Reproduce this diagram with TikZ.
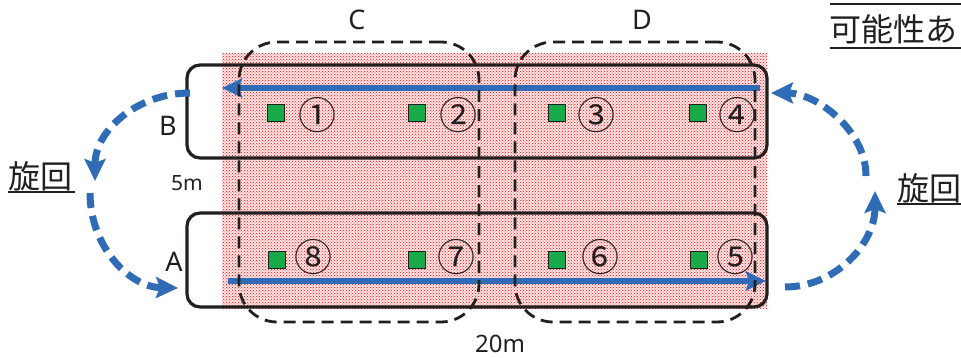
\documentclass[tikz,border=0pt]{standalone}
\usepackage{fontspec}
\setmainfont{Noto Sans}
\newfontfamily\jp{Noto Sans CJK JP}
\usetikzlibrary{patterns,arrows.meta}
\definecolor{arrowblue}{RGB}{47,108,181}
\definecolor{txt}{RGB}{35,31,32}
\definecolor{sqgreen}{RGB}{24,170,72}
\begin{document}
\begin{tikzpicture}[x=1pt,y=-1pt,
  rowbox/.style={draw=txt, line width=3.2pt, rounded corners=13pt, minimum width=580pt, inner sep=0pt},
  zonebox/.style={draw=txt, line width=2.8pt, dash pattern=on 12pt off 7pt, rounded corners=38pt, minimum width=240pt, minimum height=280pt, inner sep=0pt},
  flow/.style={arrowblue, line width=6pt, -{Stealth[length=20pt,width=19pt,inset=3pt]}},
  turn/.style={arrowblue, line width=7pt, dash pattern=on 15pt off 8pt, -{Stealth[length=22pt,width=21pt,inset=4pt]}},
  sensor/.style={fill=sqgreen, draw=txt, line width=1.2pt, minimum size=17pt, inner sep=0pt},
  num/.style={font=\jp\fontsize{38}{38}\selectfont, text=txt, inner sep=0pt},
  lbl/.style={font=\fontsize{27}{27}\selectfont, text=txt, inner sep=0pt},
  dim/.style={font=\fontsize{21}{21}\selectfont, text=txt, inner sep=0pt},
  jplbl/.style={font=\jp\fontsize{32}{32}\selectfont, text=txt, inner sep=0pt},
  uline/.style={txt, line width=1.3pt}
]
\useasboundingbox (0,0) rectangle (961,358);
% dotted area
\fill[red!10] (222,53) rectangle (767,308);
\fill[pattern=crosshatch dots, pattern color=red] (222,53) rectangle (767,308);
% rows
\node[rowbox, minimum height=93pt] (B) at (477,111.5) {};
\node[rowbox, minimum height=94pt] (A) at (477,260) {};
% flow arrows
\coordinate (bs) at (760,88); \coordinate (be) at (222,88);
\coordinate (as) at (228,281); \coordinate (ae) at (766,281);
\draw[flow] (bs) -- (be);
\draw[flow] (as) -- (ae);
% zones
\node[zonebox] (C) at (359,182) {};
\node[zonebox] (D) at (635,182) {};
\node[lbl] (Clbl) at (357,20) {C};
\node[lbl] (Dlbl) at (642,20) {D};
% sensors
\foreach \x/\n in {276/s1,417/s2,557/s3,698/s4} \node[sensor] (\n) at (\x,113) {};
\foreach \x/\n in {277/s8,417/s7,557/s6,699/s5} \node[sensor] (\n) at (\x,260) {};
% numbers
\node[num] (n1) at (317,115) {①};
\node[num] (n2) at (458,115) {②};
\node[num] (n3) at (596,115) {③};
\node[num] (n4) at (737,115) {④};
\node[num] (n8) at (313,257) {⑧};
\node[num] (n7) at (456,257) {⑦};
\node[num] (n6) at (600,257) {⑥};
\node[num] (n5) at (735,257) {⑤};
% labels
\node[lbl] (Blbl) at (168,126) {B};
\node[lbl] (Albl) at (174,262) {A};
\node[dim] (w5) at (187,183) {5m};
\node[dim,font=\fontsize{24}{24}\selectfont] (w20) at (500,344) {20m};
% turns
\coordinate (lu1) at (190,93); \coordinate (lu2) at (95,181);
\coordinate (ll1) at (90,193); \coordinate (ll2) at (178,288);
\coordinate (rl1) at (785,287); \coordinate (rl2) at (875,191);
\coordinate (ru1) at (866,176); \coordinate (ru2) at (771,93);
\draw[turn] (lu1) .. controls (138,93) and (95,130) .. (lu2);
\draw[turn] (ll1) .. controls (90,245) and (128,287) .. (ll2);
\draw[turn] (rl1) .. controls (835,287) and (875,244) .. (rl2);
\draw[turn] (ru1) .. controls (866,130) and (816,93) .. (ru2);
% turn labels
\node[jplbl] (tl) at (41,176) {旋回};
\draw[uline] (8,192) -- (75,192);
\node[jplbl] (tr) at (929,188) {旋回};
\draw[uline] (897,204) -- (961,204);
% top-right text
\node[jplbl, anchor=west] (note) at (829,29) {可能性あ};
\draw[uline] (830,48) -- (961,48);
\draw[uline] (830,4) -- (961,4);
\end{tikzpicture}
\end{document}
